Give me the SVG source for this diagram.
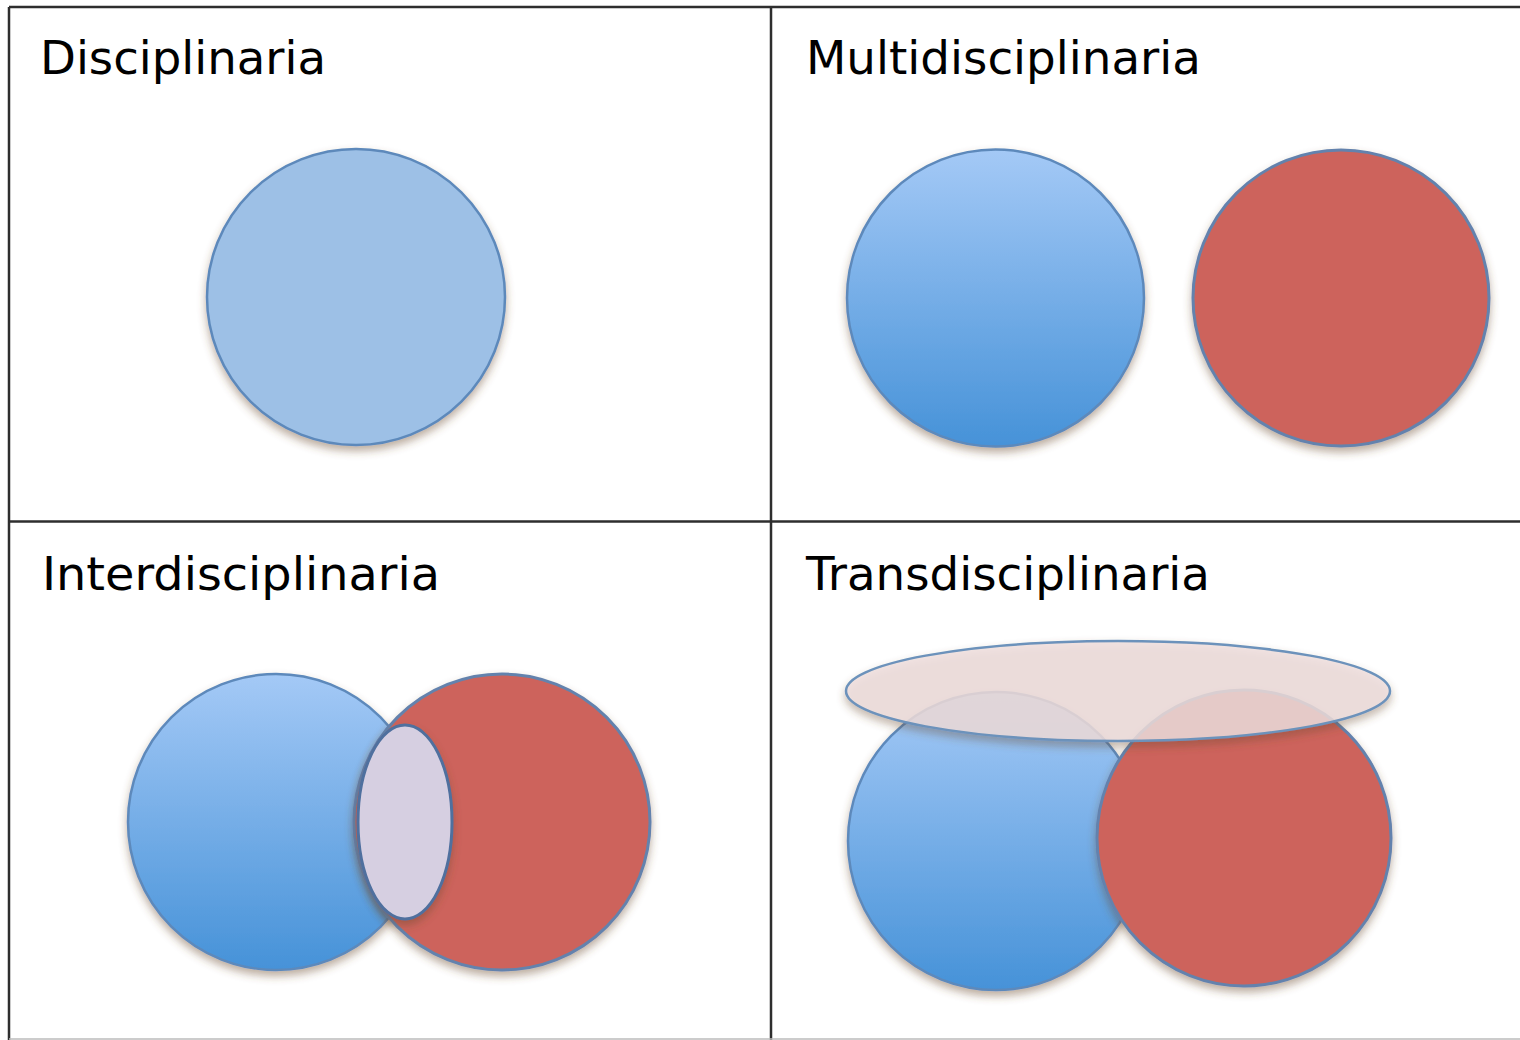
<svg xmlns="http://www.w3.org/2000/svg" width="1520" height="1040" viewBox="0 0 1520 1040">
  <style>
    .lbl { font-family: "DejaVu Sans", Verdana, sans-serif; font-size: 47px; fill: #000; }
    .grid { stroke: #2e2e2e; stroke-width: 2.5; fill: none; }
    .blueStroke { stroke: #5d89bb; stroke-width: 2.5; }
    .redC { fill: #cd645b; stroke: #6482ad; stroke-width: 3; }
  </style>
  <defs>
    <linearGradient id="blueGrad" x1="0" y1="0" x2="0" y2="1">
      <stop offset="0" stop-color="#a4c9f6"/>
      <stop offset="1" stop-color="#4692d8"/>
    </linearGradient>
    <filter id="shadow" x="-20%" y="-20%" width="140%" height="150%">
      <feDropShadow dx="0" dy="5" stdDeviation="4" flood-color="#6b4a2a" flood-opacity="0.45"/>
    </filter>
  </defs>

  <rect width="1520" height="1040" fill="#ffffff"/>

  <g id="grid">
    <line class="grid" x1="9" y1="7" x2="1520" y2="7"/>
    <line class="grid" x1="9" y1="7" x2="9" y2="1040"/>
    <line class="grid" x1="771" y1="7" x2="771" y2="1040"/>
    <line class="grid" x1="9" y1="521.5" x2="1520" y2="521.5"/>
    <line x1="9" y1="1039" x2="1520" y2="1039" stroke="#bbbbbb" stroke-width="1.5"/>
  </g>

  <g id="disciplinaria">
    <text class="lbl" x="40" y="74" textLength="286" lengthAdjust="spacingAndGlyphs">Disciplinaria</text>
    <ellipse cx="356" cy="297" rx="149" ry="148" fill="#9dc0e6" class="blueStroke" filter="url(#shadow)"/>
  </g>

  <g id="multidisciplinaria">
    <text class="lbl" x="806" y="74" textLength="395" lengthAdjust="spacingAndGlyphs">Multidisciplinaria</text>
    <ellipse cx="995.5" cy="298" rx="148.5" ry="148.5" fill="url(#blueGrad)" class="blueStroke" filter="url(#shadow)"/>
    <ellipse cx="1341" cy="298" rx="148" ry="148" class="redC" filter="url(#shadow)"/>
  </g>

  <g id="interdisciplinaria">
    <text class="lbl" x="42" y="590" textLength="398" lengthAdjust="spacingAndGlyphs">Interdisciplinaria</text>
    <ellipse cx="276" cy="822" rx="148" ry="148" fill="url(#blueGrad)" class="blueStroke" filter="url(#shadow)"/>
    <ellipse cx="502" cy="822" rx="148" ry="148" class="redC" filter="url(#shadow)"/>
    <ellipse cx="405" cy="822" rx="47" ry="97" fill="#d6cfe1" stroke="#4f6f9e" stroke-width="3" filter="url(#shadow)"/>
  </g>

  <g id="transdisciplinaria">
    <text class="lbl" x="806" y="590" textLength="404" lengthAdjust="spacingAndGlyphs">Transdisciplinaria</text>
    <ellipse cx="996" cy="841" rx="148" ry="149" fill="url(#blueGrad)" class="blueStroke" filter="url(#shadow)"/>
    <ellipse cx="1244" cy="838" rx="147" ry="148" class="redC" filter="url(#shadow)"/>
    <ellipse cx="1118" cy="691" rx="272" ry="50" fill="#efdedd" fill-opacity="0.82" stroke="#6c92bb" stroke-width="2.5" filter="url(#shadow)"/>
  </g>
</svg>
